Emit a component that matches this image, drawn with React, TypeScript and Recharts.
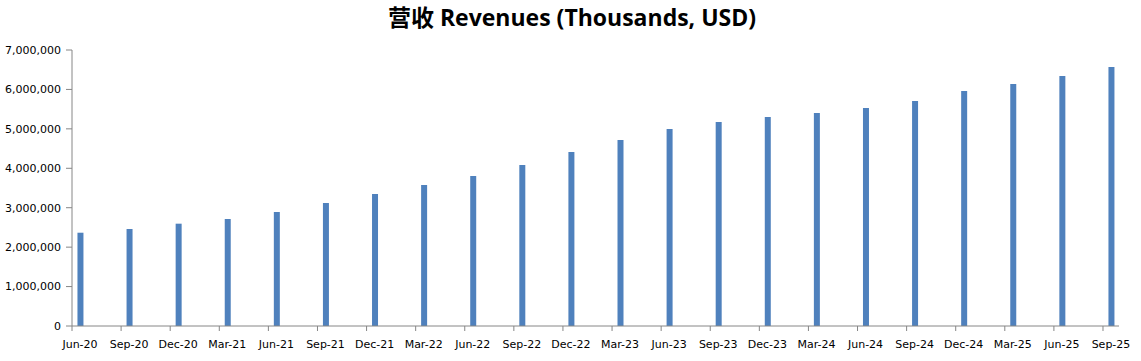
import React from 'react';
import { BarChart, Bar, XAxis, YAxis } from 'recharts';

const categories = ['Jun-20', 'Sep-20', 'Dec-20', 'Mar-21', 'Jun-21', 'Sep-21', 'Dec-21', 'Mar-22', 'Jun-22', 'Sep-22', 'Dec-22', 'Mar-23', 'Jun-23', 'Sep-23', 'Dec-23', 'Mar-24', 'Jun-24', 'Sep-24', 'Dec-24', 'Mar-25', 'Jun-25', 'Sep-25'];
const revenues = [2366000, 2460000, 2595000, 2714000, 2891000, 3119000, 3348000, 3576000, 3804000, 4083000, 4413000, 4717000, 4996000, 5174000, 5300000, 5402000, 5529000, 5706000, 5960000, 6137000, 6340000, 6569000];
const yTicks = [0, 1000000, 2000000, 3000000, 4000000, 5000000, 6000000, 7000000];
const title = '营收 Revenues (Thousands, USD)';

const data = categories.map((c, i) => ({ i, label: c, revenue: revenues[i] }));
const xTicks = categories.map((_, i) => i);

const AXIS = '#868686';
const FONT = 'DejaVu Sans, Verdana, sans-serif';

const XTick = (props: any) => {
  const { x, y, payload } = props;
  return (
    <g>
      <line x1={x - 8} x2={x - 8} y1={y - 14} y2={y - 9} stroke={AXIS} strokeWidth={1} />
      <text x={x} y={y} dy="0.71em" textAnchor="middle" fontSize={11} fontFamily={FONT} fill="#000">
        {categories[payload.value]}
      </text>
    </g>
  );
};

export default function App() {
  return (
    <div style={{ position: 'absolute', left: 0, top: 0, width: 1141, height: 361, background: '#fff' }}>
      <BarChart width={1141} height={361} data={data} margin={{ top: 50, right: 22, bottom: 0, left: 0 }}>
        <XAxis
          type="number"
          dataKey="i"
          domain={[-0.163, 21.163]}
          allowDataOverflow
          ticks={xTicks}
          interval={0}
          tickLine={false}
          tickSize={5}
          tickMargin={9}
          height={35}
          stroke={AXIS}
          tick={<XTick />}
        />
        <YAxis
          domain={[0, 7000000]}
          ticks={yTicks}
          interval={0}
          width={72}
          tickSize={6}
          tickMargin={5}
          stroke={AXIS}
          tick={{ fontSize: 11, fontFamily: FONT, fill: '#000' }}
          tickFormatter={(v: number) => v.toLocaleString('en-US')}
        />
        <Bar dataKey="revenue" fill="#4F81BD" barSize={6} isAnimationActive={false} />
      </BarChart>
      <svg width={1141} height={40} style={{ position: 'absolute', left: 0, top: 0 }}>
        <text x={572} y={26} textAnchor="middle" fontSize={23} fontWeight={700} fontFamily="'Open Sans', 'Noto Sans CJK SC', sans-serif" fill="#000">
          {title}
        </text>
      </svg>
    </div>
  );
}
